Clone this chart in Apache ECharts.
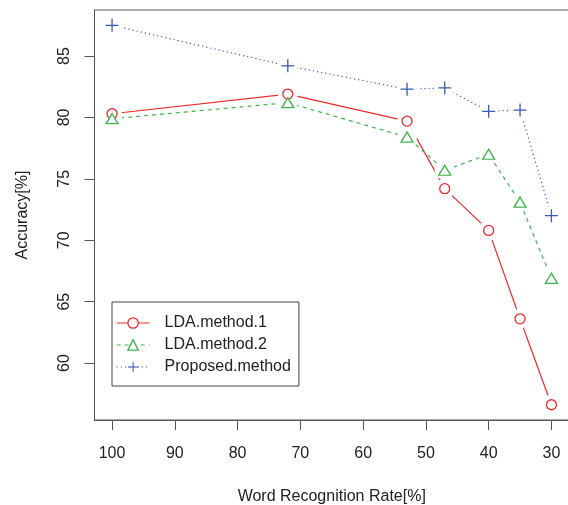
<!DOCTYPE html>
<html>
<head>
<meta charset="utf-8">
<script src="https://cdn.jsdelivr.net/npm/echarts@6/dist/echarts.min.js"></script>
<style>
  html, body { margin: 0; padding: 0; background: #fff; }
  #main { width: 568px; height: 505px; }
</style>
</head>
<body>
<div id="main"></div>
<script>
// word recognition rate (x) and accuracy of each method
const rates = [100, 72, 53, 47, 40, 35, 30]
const lda1 = [80.3, 81.9, 79.7, 74.2, 70.8, 63.6, 56.6]
const lda2 = [79.9, 81.2, 78.4, 75.7, 77.0, 73.1, 66.9]
const proposed = [87.5, 84.2, 82.3, 82.4, 80.5, 80.6, 72.0]
const xTicks = [100, 90, 80, 70, 60, 50, 40, 30]
const yTicks = [60, 65, 70, 75, 80, 85]
const names = ['LDA.method.1', 'LDA.method.2', 'Proposed.method']

const colors = ['#ee2a2a', '#3cb44a', '#3a5bb5']
const plus = 'path://M5.4,0h1.2v12h-1.2z M0,5.4h12v1.2h-12z'
const symbols = ['circle', 'triangle', plus]
const sizes = [10, [12, 10], 13]
const dashes = ['solid', [4, 4], [1.2, 3]]
const sets = [lda1, lda2, proposed]

var chartDom = document.getElementById('main')
var myChart = echarts.init(chartDom)

function pts(arr) {
  return rates.map((r, i) => [r, arr[i]])
}

function markStyle(k) {
  // hollow marks for R pch 1 and 2, solid strokes for the plus
  if (k === 2) return { color: colors[k], borderWidth: 0, opacity: 1 }
  return { color: '#fff', borderColor: colors[k], borderWidth: 1.3, opacity: 1 }
}

var seriesList = []
// lines
sets.forEach((s, k) => {
  seriesList.push({
    name: names[k],
    type: 'line',
    data: pts(s),
    symbol: symbols[k],
    symbolSize: sizes[k],
    z: 2,
    lineStyle: { color: colors[k], width: 1.2, type: dashes[k] },
    itemStyle: markStyle(k),
    animation: false
  })
})
// white masks so the lines stop short of the points (R type="b")
sets.forEach((s, k) => {
  seriesList.push({
    name: 'mask' + k,
    type: 'scatter',
    data: pts(s),
    symbol: 'circle',
    symbolSize: 20,
    silent: true,
    z: 3,
    itemStyle: { color: '#ffffff', borderWidth: 0, opacity: 1 },
    animation: false
  })
})
// markers
sets.forEach((s, k) => {
  seriesList.push({
    name: names[k],
    type: 'scatter',
    data: pts(s),
    symbol: symbols[k],
    symbolSize: sizes[k],
    z: 4,
    itemStyle: markStyle(k),
    animation: false
  })
})

var option = {
  animation: false,
  textStyle: { fontFamily: 'Liberation Sans, Arial, sans-serif' },
  grid: {
    left: 94.5,
    top: 10,
    width: 474.5,
    height: 410,
    outerBoundsMode: 'none',
    containLabel: false,
    show: true,
    borderColor: '#555',
    borderWidth: 1
  },
  legend: {
    data: names,
    orient: 'vertical',
    left: 112,
    top: 302,
    itemWidth: 33,
    itemHeight: 13,
    itemGap: 6,
    padding: [13, 8, 11, 4],
    borderColor: '#444',
    borderWidth: 1,
    itemStyle: { borderWidth: 1.3 },
    lineStyle: { width: 1.2 },
    textStyle: { fontSize: 16, color: '#222', padding: [0, 0, 0, 10] }
  },
  xAxis: {
    type: 'value',
    inverse: true,
    min: 27.2,
    max: 102.8,
    name: 'Word Recognition Rate[%]',
    nameLocation: 'middle',
    nameGap: 69,
    nameMoveOverlap: false,
    nameTextStyle: { fontSize: 16, color: '#222' },
    axisLine: { show: true, lineStyle: { color: '#555' } },
    axisTick: { show: true, length: 10, customValues: xTicks, lineStyle: { color: '#555' } },
    axisLabel: { customValues: xTicks, fontSize: 16, color: '#222', margin: 26 },
    splitLine: { show: false }
  },
  yAxis: {
    type: 'value',
    min: 55.36,
    max: 88.75,
    name: 'Accuracy[%]',
    nameLocation: 'middle',
    nameGap: 64,
    nameMoveOverlap: false,
    nameTextStyle: { fontSize: 16, color: '#222' },
    axisLine: { show: true, lineStyle: { color: '#555' } },
    axisTick: { show: true, length: 10, customValues: yTicks, lineStyle: { color: '#555' } },
    axisLabel: { customValues: yTicks, fontSize: 16, color: '#222', margin: 21.5, rotate: 90 },
    splitLine: { show: false }
  },
  series: seriesList
}
option && myChart.setOption(option)
</script>
</body>
</html>
